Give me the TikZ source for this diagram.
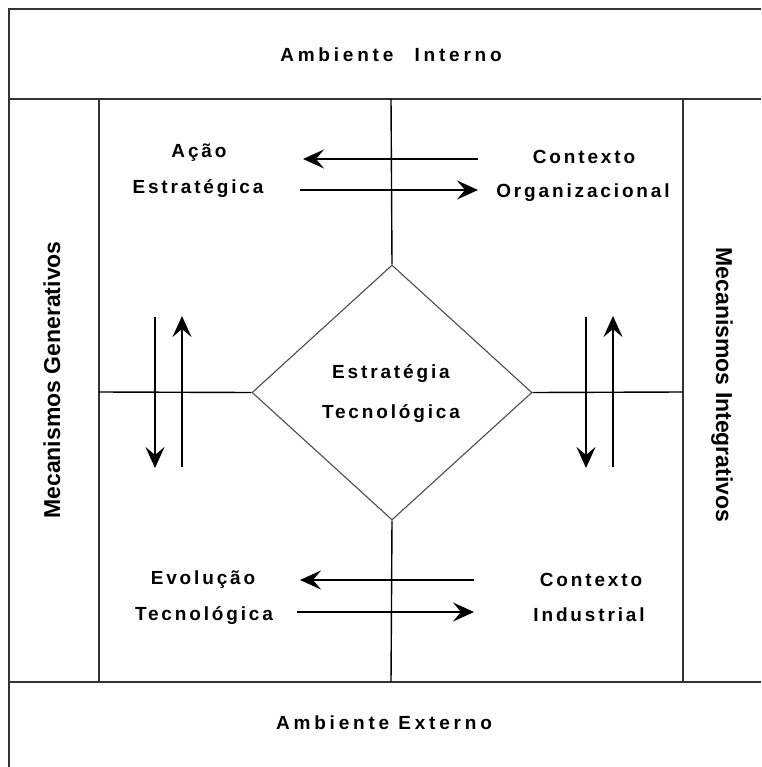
\documentclass[tikz,border=0pt]{standalone}
\usepackage{fontspec}
\setmainfont{Liberation Sans}
\newfontfamily\spacedfont{Liberation Sans}[LetterSpace=15]
\newfontfamily\widefont{Liberation Sans}[LetterSpace=20]
\usetikzlibrary{shapes.geometric,arrows.meta}
\begin{document}
\begin{tikzpicture}[x=1pt,y=-1pt,
  frame/.style={line width=2pt,draw=black!80},
  axis/.style={line width=1.4pt,draw=black},
  flow/.style={line width=2.3pt,-{Stealth[length=21pt,width=19pt,inset=8pt]}},
  lbl/.style={font=\spacedfont\bfseries\fontsize{19}{22}\selectfont,anchor=base,inner sep=0pt},
  head/.style={font=\widefont\bfseries\fontsize{19}{22}\selectfont,anchor=base,inner sep=0pt},
  side/.style={font=\bfseries\fontsize{23}{26}\selectfont,inner sep=0pt}]
\useasboundingbox (0,0) rectangle (761,767);
\fill[white] (0,0) rectangle (761,767);

% outer frame (open at right and bottom)
\coordinate (tl) at (9,9);
\coordinate (tr) at (761,9);
\coordinate (bl) at (9,767);
\coordinate (ml) at (9,99);
\coordinate (mr) at (761,99);
\coordinate (nl) at (9,682);
\coordinate (nr) at (761,682);
\draw[frame] (tr) -- (tl) -- (bl);
\draw[frame] (ml) -- (mr);
\draw[frame] (nl) -- (nr);

% inner columns
\coordinate (c1t) at (99,99);
\coordinate (c1b) at (99,682);
\coordinate (c2t) at (683,99);
\coordinate (c2b) at (683,682);
\draw[frame] (c1t) -- (c1b);
\draw[frame] (c2t) -- (c2b);

% central diamond
\node[diamond,draw=black!70,line width=1.1pt,minimum width=280pt,minimum height=255pt,inner sep=0pt]
  (core) at (392,392.5) {};
\node[lbl] (core1) at (391,378) {Estratégia};
\node[lbl] (core2) at (391,418) {Tecnológica};

% cross lines meeting the diamond
\coordinate (vt) at (391,99);
\coordinate (vb) at (391,682);
\coordinate (hl) at (99,392);
\coordinate (hr) at (683,392);
\draw[axis] (vt) -- (core.north);
\draw[axis] (core.south) -- (vb);
\draw[axis] (hl) -- (core.west);
\draw[axis] (core.east) -- (hr);

% header and footer
\node[head] (intern) at (391,62) {Ambiente\hspace{12pt} Interno};
\node[head] (extern) at (384,729) {Ambiente Externo};

% side labels
\node[side,rotate=90] (gen) at (52,380) {Mecanismos Generativos};
\node[side,rotate=-90] (integ) at (722,385) {Mecanismos Integrativos};

% quadrant labels
\node[lbl] (acao) at (199,158) {Ação};
\node[lbl] (estr) at (198,194) {Estratégica};
\node[lbl] (ctx1) at (584,164) {Contexto};
\node[lbl] (org) at (583,198) {Organizacional};
\node[lbl] (evol) at (203,584) {Evolução};
\node[lbl] (tecn) at (204,620) {Tecnológica};
\node[lbl] (ctx2) at (591,586) {Contexto};
\node[lbl] (ind) at (589,621) {Industrial};

% horizontal arrows
\coordinate (a1s) at (478,159);
\coordinate (a1e) at (303,159);
\coordinate (a2s) at (300,190);
\coordinate (a2e) at (478,190);
\coordinate (a3s) at (474,580);
\coordinate (a3e) at (300,580);
\coordinate (a4s) at (297,612);
\coordinate (a4e) at (474,612);
\draw[flow] (a1s) -- (a1e);
\draw[flow] (a2s) -- (a2e);
\draw[flow] (a3s) -- (a3e);
\draw[flow] (a4s) -- (a4e);

% vertical arrows
\coordinate (b1s) at (155,317);
\coordinate (b1e) at (155,468);
\coordinate (b2s) at (182,467);
\coordinate (b2e) at (182,316);
\coordinate (b3s) at (586,317);
\coordinate (b3e) at (586,468);
\coordinate (b4s) at (613,467);
\coordinate (b4e) at (613,316);
\draw[flow] (b1s) -- (b1e);
\draw[flow] (b2s) -- (b2e);
\draw[flow] (b3s) -- (b3e);
\draw[flow] (b4s) -- (b4e);
\end{tikzpicture}
\end{document}
